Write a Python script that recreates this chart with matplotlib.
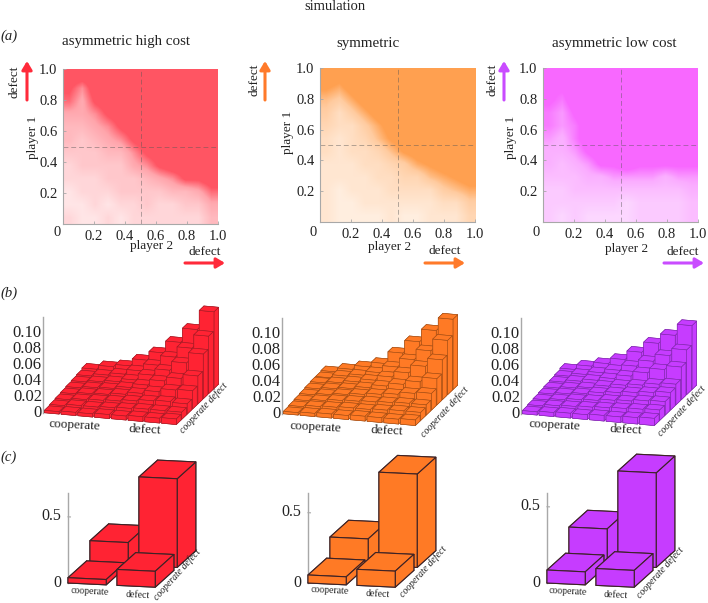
import numpy as np
import matplotlib
matplotlib.use('Agg')
import matplotlib.pyplot as plt
from matplotlib.colors import LinearSegmentedColormap, to_rgb
from mpl_toolkits.mplot3d import proj3d

plt.rcParams['font.family'] = ['Liberation Serif', 'DejaVu Serif']

W, H = 708, 603

titles = ['asymmetric high cost', 'symmetric', 'asymmetric low cost']
ticks = [0.2, 0.4, 0.6, 0.8, 1.0]
bar_ticks = [0.02, 0.04, 0.06, 0.08, 0.10]

# how saturated the cloud looks, 0 white .. 9 full colour, top row first
heat_high = [
    [9, 9, 9, 9, 9, 9, 9, 9, 9, 9, 9, 9],
    [8, 6, 9, 9, 9, 9, 9, 9, 9, 9, 9, 9],
    [7, 5, 8, 9, 9, 9, 9, 9, 9, 9, 9, 9],
    [5, 5, 6, 8, 9, 9, 9, 9, 9, 9, 9, 9],
    [4, 4, 5, 6, 8, 9, 9, 9, 9, 9, 9, 9],
    [4, 3, 4, 5, 6, 8, 9, 9, 9, 9, 9, 9],
    [3, 3, 3, 4, 4, 6, 8, 9, 9, 9, 9, 9],
    [2, 3, 3, 3, 3, 5, 6, 8, 9, 9, 9, 9],
    [2, 2, 2, 3, 3, 3, 4, 5, 6, 8, 8, 9],
    [1, 2, 2, 2, 3, 3, 3, 3, 4, 4, 5, 7],
    [1, 1, 2, 1, 2, 2, 3, 2, 2, 3, 3, 5],
    [2, 1, 1, 2, 1, 2, 2, 2, 2, 2, 2, 4],
]
heat_sym = [
    [9, 9, 9, 9, 9, 9, 9, 9, 9, 9, 9, 9],
    [8, 7, 9, 9, 9, 9, 9, 9, 9, 9, 9, 9],
    [6, 5, 7, 9, 9, 9, 9, 9, 9, 9, 9, 9],
    [5, 3, 5, 7, 9, 9, 9, 9, 9, 9, 9, 9],
    [4, 3, 3, 5, 7, 9, 9, 9, 9, 9, 9, 9],
    [3, 2, 3, 4, 6, 8, 9, 9, 9, 9, 9, 9],
    [3, 2, 3, 3, 4, 6, 8, 9, 9, 9, 9, 9],
    [2, 2, 2, 3, 3, 4, 5, 7, 8, 9, 9, 9],
    [2, 2, 2, 2, 3, 3, 4, 4, 6, 7, 8, 9],
    [2, 1, 2, 2, 2, 3, 3, 3, 3, 5, 6, 7],
    [2, 1, 1, 2, 2, 2, 2, 2, 2, 3, 3, 5],
    [2, 1, 1, 1, 1, 2, 1, 1, 2, 2, 2, 4],
]
heat_low = [
    [9, 9, 9, 9, 9, 9, 9, 9, 9, 9, 9, 9],
    [8, 8, 9, 9, 9, 9, 9, 9, 9, 9, 9, 9],
    [8, 7, 9, 9, 9, 9, 9, 9, 9, 9, 9, 9],
    [7, 6, 8, 9, 9, 9, 9, 9, 9, 9, 9, 9],
    [7, 6, 7, 9, 9, 9, 9, 9, 9, 9, 9, 9],
    [6, 5, 7, 9, 9, 9, 9, 9, 9, 9, 9, 9],
    [5, 5, 6, 8, 9, 9, 9, 9, 9, 9, 9, 9],
    [5, 4, 5, 6, 8, 8, 9, 8, 8, 8, 8, 8],
    [4, 4, 4, 5, 5, 6, 6, 6, 6, 5, 6, 6],
    [3, 3, 4, 4, 4, 4, 4, 4, 4, 4, 4, 5],
    [3, 3, 3, 3, 3, 3, 2, 3, 3, 3, 3, 4],
    [3, 2, 3, 2, 2, 2, 2, 3, 3, 3, 3, 4],
]

# 8 x 8 outcome shares, front row first
bars_high = [
    [.003, .004, .004, .005, .005, .006, .006, .007],
    [.004, .006, .006, .007, .008, .009, .009, .009],
    [.005, .007, .008, .009, .011, .013, .014, .013],
    [.006, .008, .009, .011, .014, .018, .022, .023],
    [.007, .009, .010, .013, .018, .025, .030, .035],
    [.008, .010, .012, .016, .024, .032, .043, .056],
    [.009, .012, .015, .021, .030, .042, .055, .072],
    [.011, .016, .019, .028, .039, .054, .072, .096],
]
bars_sym = [
    [.003, .004, .005, .005, .006, .006, .006, .007],
    [.004, .006, .007, .008, .008, .009, .010, .010],
    [.005, .007, .009, .010, .011, .012, .013, .013],
    [.006, .008, .010, .012, .014, .016, .019, .021],
    [.007, .009, .011, .014, .018, .022, .027, .033],
    [.008, .010, .013, .017, .023, .030, .040, .050],
    [.008, .012, .015, .020, .029, .040, .053, .068],
    [.009, .014, .019, .025, .040, .056, .072, .088],
]
bars_low = [
    [.004, .005, .006, .006, .007, .007, .008, .009],
    [.005, .007, .008, .009, .010, .011, .012, .013],
    [.006, .008, .010, .011, .013, .014, .016, .017],
    [.007, .009, .011, .014, .016, .018, .020, .022],
    [.008, .010, .012, .016, .019, .021, .024, .026],
    [.009, .012, .015, .019, .024, .030, .036, .041],
    [.010, .014, .018, .023, .030, .038, .047, .056],
    [.012, .018, .023, .030, .041, .054, .066, .080],
]

# 2 x 2 outcome shares, front row first
pairs_high = [[.04, .12], [.17, .67]]
pairs_sym = [[.057, .114], [.186, .664]]
pairs_low = [[.085, .11], [.237, .62]]
pairs_top = [.68, .64, .59]

heat_full = ['#ff5563', '#ffa050', '#f868ff']
heat_pale = ['#fff4f4', '#fff6ee', '#fdf0ff']
bar_col = ['#ff2333', '#ff7a25', '#c63cff']
arrow_col = ['#ff2a3a', '#ff7a2a', '#c94cff']
edge_b = ['#a01c26', '#a04c14', '#7c28a8']
grey = '#a8a8a8'
ink = '#222222'

fig = plt.figure(figsize=(W / 100, H / 100), dpi=100)

# texts and arrows go on one overlay in picture pixels
ov = fig.add_axes([0, 0, 1, 1], zorder=10)
ov.set_xlim(0, W)
ov.set_ylim(H, 0)
ov.set_axis_off()
ov.patch.set_alpha(0)


def frac_box(left, right, top, bottom):
    return [left / W, 1 - bottom / H, (right - left) / W, (bottom - top) / H]


def label(x, y, s, size=10.5, rot=0, ha='center', **kw):
    ov.text(x, y, s, ha=ha, va='center', fontsize=size, rotation=rot,
            rotation_mode='anchor', color=ink, **kw)


def arrow(x0, y0, x1, y1, col):
    ov.annotate('', xy=(x1, y1), xytext=(x0, y0),
                arrowprops=dict(arrowstyle='-|>,head_width=0.3,head_length=0.5',
                                color=col, lw=2.2, shrinkA=0, shrinkB=0))


def screen(ax, x, y, z):
    xs, ys, _ = proj3d.proj_transform(x, y, z, ax.get_proj())
    ax.apply_aspect()
    px = ax.transData.transform((xs, ys))
    return px[0], H - px[1]


def bar_axes(n, ztop, azim, elev, yscale, origin, xend, zpx):
    """3d axes with the (0,0,0) corner and the x end put on given pixels"""
    ax = fig.add_axes(frac_box(origin[0] - 60, origin[0] + 240, origin[1] - 230, origin[1] + 70),
                      projection='3d')
    ax.set_proj_type('ortho')
    ax.view_init(elev=elev, azim=azim)
    ax.set_xlim(0, n)
    ax.set_ylim(0, n)
    ax.set_zlim(0, ztop)
    ax.set_axis_off()
    ax.computed_zorder = False
    ax.patch.set_alpha(0)
    zr = zpx / (xend[0] - origin[0]) * np.cos(np.radians(azim + 90)) / np.cos(np.radians(elev))
    aspect = (1, yscale, zr)
    ax.set_box_aspect(aspect, zoom=1.0)
    span = screen(ax, n, 0, 0)[0] - screen(ax, 0, 0, 0)[0]
    ax.set_box_aspect(aspect, zoom=(xend[0] - origin[0]) / span)
    sx, sy = screen(ax, 0, 0, 0)
    box = ax.get_position(original=True)
    ax.set_position([box.x0 + (origin[0] - sx) / W, box.y0 - (origin[1] - sy) / H,
                     box.width, box.height])
    return ax


def draw_bars(ax, values, width, depth, col, edge, lw):
    n = len(values)
    inset = (1 - width) / 2 if n > 2 else 0
    order = 1
    for row in range(n - 1, -1, -1):
        for c in range(n):
            ax.bar3d(c + inset, row + inset, 0, width, depth, values[row][c],
                     color=col, edgecolor=edge, linewidth=lw, shade=False, zorder=order)
            order += 1


def zaxis(ax, top, tick_vals, labels, gap, tick_len, size):
    ax.plot([0, 0], [0, 0], [0, top], color=grey, lw=1.0, zorder=0)
    for z, lab in zip(tick_vals, labels):
        ax.plot([0, tick_len], [0, 0], [z, z], color=grey, lw=0.8, zorder=0)
        x, y = screen(ax, -gap, 0, z)
        label(x, y, lab, size, ha='right')


# (a) heat panels
boxes = [(63, 218, 69, 224), (320, 475, 68, 222), (543, 698, 68, 222)]
grids = [heat_high, heat_sym, heat_low]
for i, grid in enumerate(grids):
    ax = fig.add_axes(frac_box(*boxes[i]))
    pale = np.array(to_rgb(heat_pale[i]))
    full = np.array(to_rgb(heat_full[i]))
    cmap = LinearSegmentedColormap.from_list(
        'fade', [(0, pale), (0.6, (pale + full) / 2), (0.85, full), (1, full)])
    ax.imshow(grid, extent=(0, 1, 0, 1), aspect='auto', cmap=cmap, vmin=0, vmax=9,
              interpolation='bilinear')
    ax.axhline(0.5, color='#555555', lw=0.7, ls=(0, (5, 3)), alpha=0.45)
    ax.axvline(0.5, color='#555555', lw=0.7, ls=(0, (5, 3)), alpha=0.45)
    for s in ['top', 'right']:
        ax.spines[s].set_visible(False)
    for s in ['left', 'bottom']:
        ax.spines[s].set_color(grey)
    ax.set_xticks(ticks)
    ax.set_yticks(ticks)
    ax.set_xticklabels(['%.1f' % t for t in ticks])
    ax.set_yticklabels(['%.1f' % t for t in ticks])
    ax.tick_params(direction='in', length=2, width=0.6, color=grey, labelsize=10.5,
                   labelcolor=ink, pad=4)

# (b) 8 x 8 bars
b_origin = [(43, 413), (282, 414), (521, 414)]
b_sets = [bars_high, bars_sym, bars_low]
for i, vals in enumerate(b_sets):
    xend = (b_origin[i][0] + 134, b_origin[i][1] + 12)
    ax = bar_axes(8, 0.12, -73, 17, 1.05, b_origin[i], xend, 96)
    zaxis(ax, 0.12, [0] + bar_ticks, ['0', '0.02', '0.04', '0.06', '0.08', '0.10'],
          0.06, 0.0, 12)
    draw_bars(ax, vals, 0.88, 0.88, bar_col[i], edge_b[i], 0.4)

# (c) 2 x 2 bars
c_origin = [(68, 583), (308, 583), (547, 583)]
c_sets = [pairs_high, pairs_sym, pairs_low]
for i, vals in enumerate(c_sets):
    xend = (c_origin[i][0] + 98, c_origin[i][1] + 5)
    ax = bar_axes(2, pairs_top[i], -77, 12, 1.94, c_origin[i], xend, 90)
    zaxis(ax, pairs_top[i], [0, 0.5], ['0', '0.5'], 0.14, 0.05, 11.5)
    draw_bars(ax, vals, 0.78, 0.85, bar_col[i], '#3c2226', 0.8)

label(335, 7, 'simulation', 10.5)
label(9, 36, '(a)', 10.5, style='italic')
label(9, 293, '(b)', 10.5, style='italic')
label(9, 457, '(c)', 10.5, style='italic')

title_xy = [(126, 42), (368, 43), (614, 43)]
player2_xy = [(152, 246), (390, 247), (627, 249)]
player1_xy = [(33, 137), (288, 132), (511, 137)]
zero_xy = [(57, 233), (313, 232), (536, 232)]
up_text_xy = [(15, 82), (255, 80), (493, 80)]
up_x = [27, 265, 504]
right_x = [(185, 225), (425, 465), (664, 704)]
right_text_xy = [(205, 252), (445, 251), (683, 252)]
for i in range(3):
    label(*title_xy[i], titles[i], 10.8)
    label(*player2_xy[i], 'player 2', 9.5)
    label(*player1_xy[i], 'player 1', 9.5, rot=90)
    label(*zero_xy[i], '0', 10.5)
    label(*up_text_xy[i], 'defect', 9.5, rot=90)
    label(*right_text_xy[i], 'defect', 9.5)
    arrow(up_x[i], 100, up_x[i], 61, arrow_col[i])
    arrow(right_x[i][0], 263, right_x[i][1], 263, arrow_col[i])

b_coop = [(75, 425), (316, 427), (555, 425)]
b_def = [(145, 430), (387, 431), (626, 430)]
b_side = [(204, 408), (445, 412), (682, 411)]
c_coop = [(90, 592), (330, 591), (568, 592)]
c_def = [(138, 595), (378, 594), (616, 595)]
c_side = [(177, 575), (423, 572), (660, 573)]
for i in range(3):
    label(*b_coop[i], 'cooperate', 9.5, rot=-3)
    label(*b_def[i], 'defect', 9.5, rot=-3)
    label(*b_side[i], 'cooperate defect', 7, rot=47, style='italic')
    label(*c_coop[i], 'cooperate', 7, rot=-3)
    label(*c_def[i], 'defect', 7, rot=-3)
    label(*c_side[i], 'cooperate defect', 7, rot=48, style='italic')

fig.savefig('out.png', dpi=100)
